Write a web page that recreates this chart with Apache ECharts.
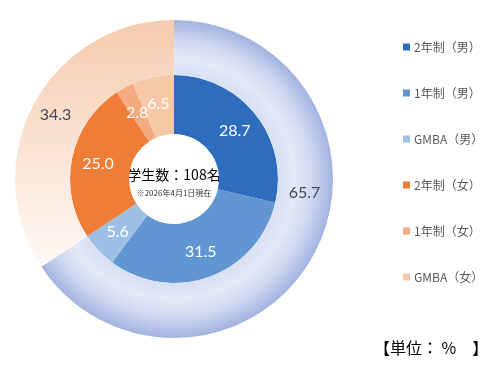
<!DOCTYPE html>
<html>
<head>
<meta charset="utf-8">
<script src="https://cdn.jsdelivr.net/npm/echarts@6/dist/echarts.min.js"></script>
<style>html,body{margin:0;padding:0;background:#fff;}#c{width:502px;height:373px;}</style>
</head>
<body>
<div id="c"></div>
<script>
// Data
var innerNames = ['2年制（男）', '1年制（男）', 'GMBA（男）', '2年制（女）', '1年制（女）', 'GMBA（女）'];
var innerValues = [28.7, 31.5, 5.6, 25.0, 2.8, 6.5];
var outerNames = ['男', '女'];
var outerValues = [65.7, 34.3];
var centerTitle = '学生数：108名';
var centerNote = '※2026年4月1日現在';
var unitText = '【単位： %　】';

var innerColors = ['#2e6cbd', '#6196d3', '#9fc0e5', '#ee7d37', '#f4ab80', '#f7c8a8'];

var chart = echarts.init(document.getElementById('c'), null, {renderer: 'canvas'});
var cx = 174, cy = 179, rOut = 159, rMid = 104, rIn = 45;

var outerStyles = [
  {color: {type: 'radial', global: true, x: cx, y: cy, r: rOut, colorStops: [
    {offset: 0, color: '#dfe6f6'},
    {offset: rMid / rOut, color: '#d8e0f4'},
    {offset: 0.76, color: '#e4e9f7'},
    {offset: 0.87, color: '#cfd8f1'},
    {offset: 1, color: '#a2b3e0'}
  ]}},
  {color: {type: 'linear', x: 0, y: 0, x2: 0, y2: 1, colorStops: [
    {offset: 0, color: '#f5cbae'},
    {offset: 1, color: '#fffaf6'}
  ]}}
];

var fmt = function (p) { return p.value.toFixed(1); };

chart.setOption({
  animation: false,
  backgroundColor: '#fff',
  legend: {
    orient: 'vertical',
    left: 403,
    top: 40,
    padding: 0,
    itemWidth: 7,
    itemHeight: 7,
    itemGap: 32,
    icon: 'rect',
    data: innerNames,
    textStyle: {fontSize: 12, lineHeight: 14, color: '#595959', fontFamily: 'Noto Sans CJK JP', padding: [0, 0, 0, -1]}
  },
  graphic: [
    {type: 'text', x: cx, y: cy - 4, style: {text: centerTitle, align: 'center', verticalAlign: 'middle', fontSize: 14, fill: '#000', fontFamily: 'Noto Sans CJK JP'}},
    {type: 'text', x: cx, y: cy + 14, style: {text: centerNote, align: 'center', verticalAlign: 'middle', fontSize: 8, fill: '#333', fontFamily: 'Noto Sans CJK JP'}},
    {type: 'text', x: 374, y: 348, style: {text: unitText, align: 'left', verticalAlign: 'middle', fontSize: 16, fill: '#000', fontFamily: 'Noto Sans CJK JP'}}
  ],
  series: [
    {
      type: 'pie',
      center: [cx, cy],
      radius: [rIn, rMid],
      startAngle: 90,
      clockwise: true,
      silent: true,
      avoidLabelOverlap: false,
      label: {position: 'inside', formatter: fmt, color: '#fff', fontSize: 16, fontFamily: 'Lato'},
      labelLine: {show: false},
      labelLayout: function (p) {
        if (p.dataIndex === 4) { return {dx: 0, dy: 2}; }
        if (p.dataIndex === 5) { return {dx: 0, dy: 1}; }
        return {};
      },
      data: innerNames.map(function (n, i) {
        return {name: n, value: innerValues[i], itemStyle: {color: innerColors[i]}};
      })
    },
    {
      type: 'pie',
      center: [cx, cy],
      radius: [rMid, rOut],
      startAngle: 90,
      clockwise: true,
      silent: true,
      avoidLabelOverlap: false,
      label: {position: 'inside', formatter: fmt, color: '#444a5c', fontSize: 16, fontFamily: 'Lato'},
      labelLine: {show: false},
      labelLayout: function (p) {
        if (p.dataIndex === 0) { return {dx: 12, dy: -50}; }
        return {};
      },
      data: outerNames.map(function (n, i) {
        return {name: n, value: outerValues[i], itemStyle: outerStyles[i]};
      })
    }
  ]
});
</script>
</body>
</html>
